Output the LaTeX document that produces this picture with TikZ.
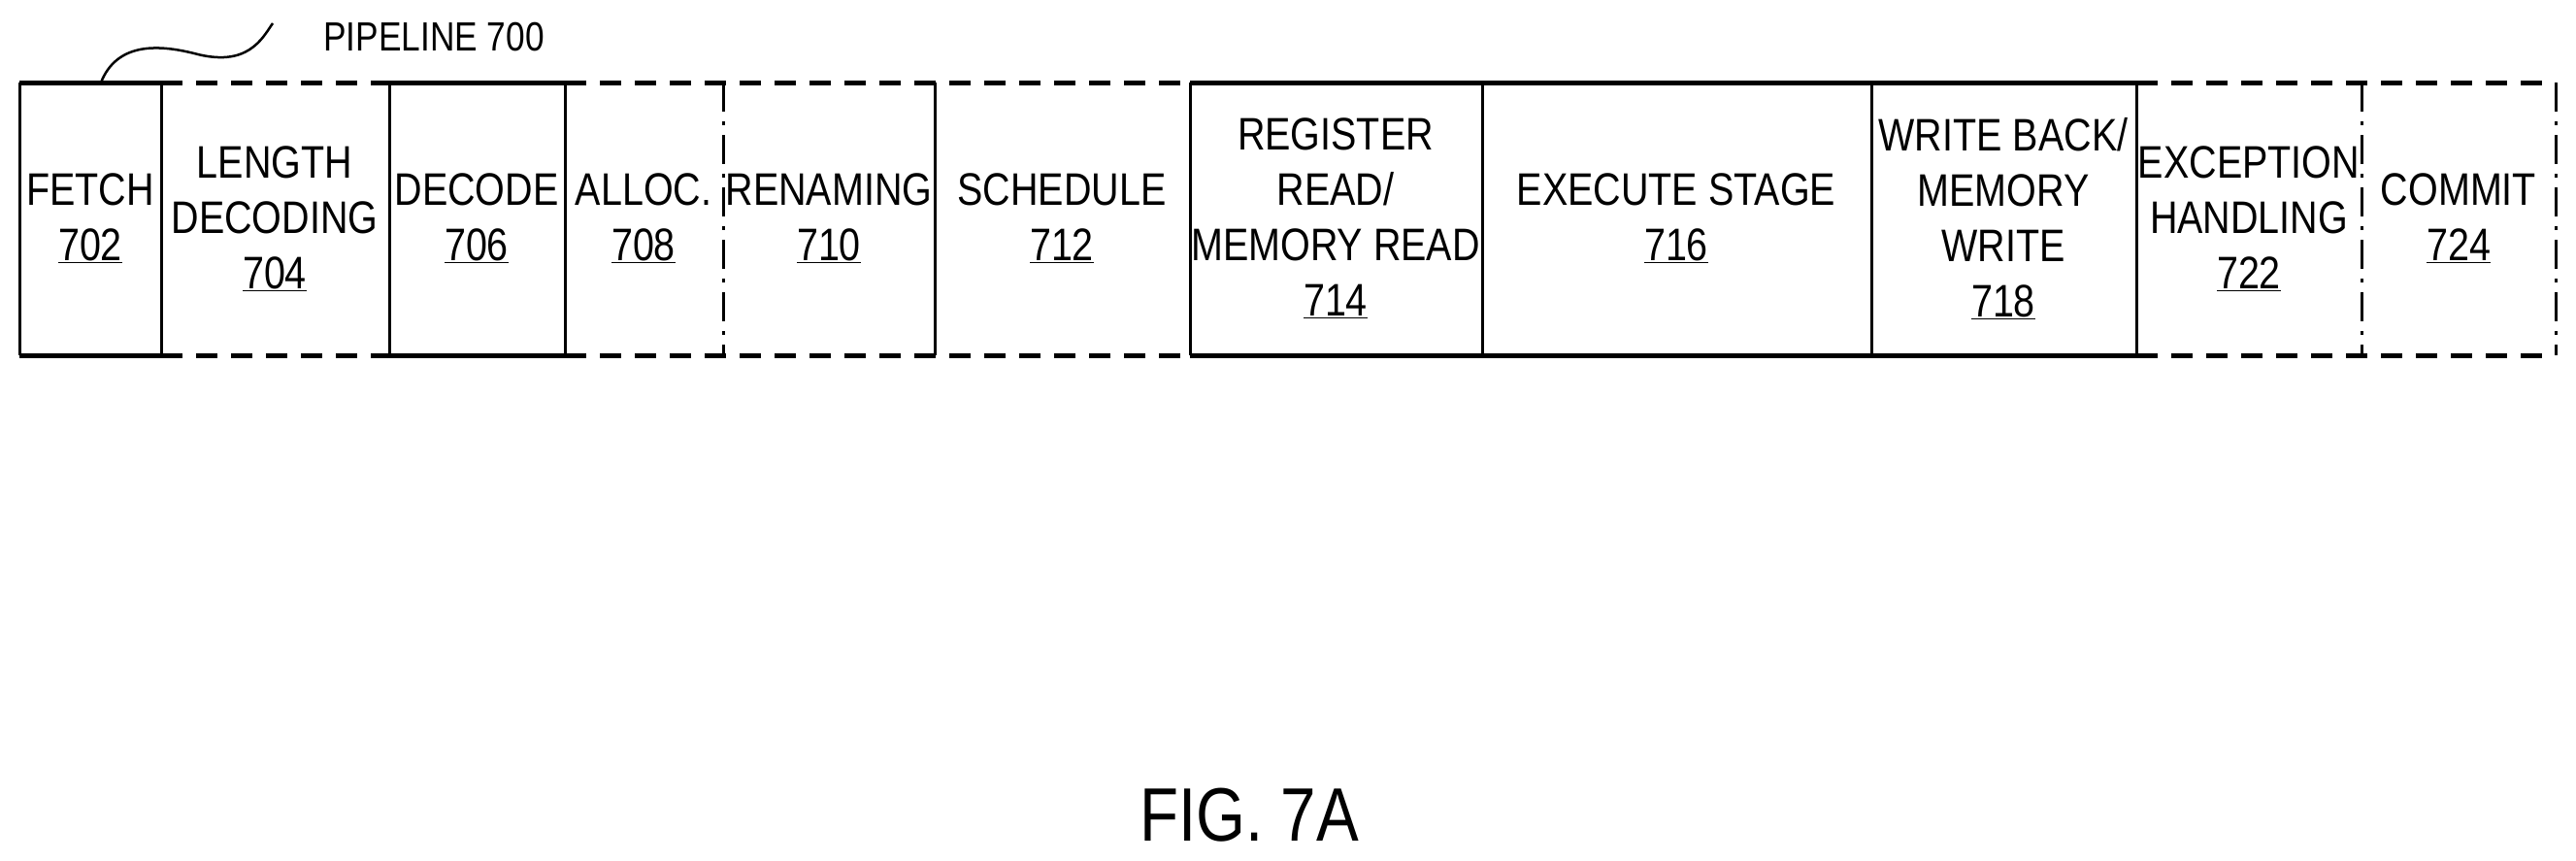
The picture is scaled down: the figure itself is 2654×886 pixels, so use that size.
\documentclass[tikz,border=0pt]{standalone}
\usepackage{fontspec}
\setmainfont[FakeStretch=0.84]{Liberation Sans}
\begin{document}
\begin{tikzpicture}[x=1pt,y=-1pt,
  lbl/.style={align=center,font=\fontsize{47}{57}\selectfont,inner sep=0},
  hs/.style={line width=5pt},
  hd/.style={line width=5pt,dash pattern=on 22pt off 14pt},
  vs/.style={line width=3pt},
  vd/.style={line width=3pt,dash pattern=on 30pt off 10pt on 4pt off 10pt}]
\useasboundingbox (0,0) rectangle (2654,886);
% top/bottom borders
\foreach \a/\b/\s in {20/166/hs,166/401/hd,401/582/hs,582/1226/hd,1226/2201/hs,2201/2633/hd}{
  \draw[\s] (\a,85) -- (\b,85);
  \draw[\s] (\a,366) -- (\b,366);}
\foreach \x/\s in {20/vs,166/vs,401/vs,582/vs,745/vd,963/vs,1226/vs,1527/vs,1928/vs,2201/vs,2433/vd,2633/vd}{
  \draw[\s] (\x,85) -- (\x,366);}
\node[lbl] (n702) at (93,225) {FETCH\\\underline{702}};
\node[lbl] (n704) at (283,225) {LENGTH\\DECODING\\\underline{704}};
\node[lbl] (n706) at (491,225) {DECODE\\\underline{706}};
\node[lbl] (n708) at (663,225) {ALLOC.\\\underline{708}};
\node[lbl] (n710) at (854,225) {RENAMING\\\underline{710}};
\node[lbl] (n712) at (1094,225) {SCHEDULE\\\underline{712}};
\node[lbl] (n714) at (1376,225) {REGISTER\\READ/\\MEMORY READ\\\underline{714}};
\node[lbl] (n716) at (1727,225) {EXECUTE STAGE\\\underline{716}};
\node[lbl] (n718) at (2064,225) {WRITE BACK/\\MEMORY\\WRITE\\\underline{718}};
\node[lbl] (n722) at (2317,225) {EXCEPTION\\HANDLING\\\underline{722}};
\node[lbl] (n724) at (2533,225) {COMMIT\\\underline{724}};
\node[font=\fontsize{42}{48}\selectfont,anchor=west,inner sep=0] (pl) at (333,38) {PIPELINE 700};
\coordinate (ps) at (104,85);
\coordinate (pe) at (281,24);
\draw[line width=2.5pt] (ps) .. controls (120,45) and (160,45) .. (200,55) .. controls (255,70) and (270,40) .. (pe);
\node[font=\fontsize{78}{88}\selectfont,inner sep=0] (fig) at (1287,840) {FIG. 7A};
\end{tikzpicture}
\end{document}
